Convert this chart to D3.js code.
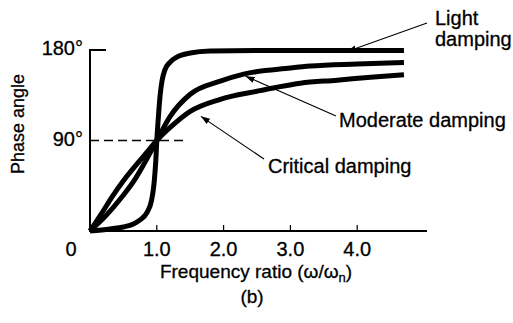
<!DOCTYPE html>
<html>
<head>
<meta charset="utf-8">
<script src="https://cdn.jsdelivr.net/npm/d3@7"></script>
<style>
html,body{margin:0;padding:0;background:#fff;}
svg{display:block;}
text{font-family:"Liberation Sans",Arial,Helvetica,sans-serif;fill:#000;stroke:#000;stroke-width:0.3;}
</style>
</head>
<body>
<svg id="chart" width="513" height="323"></svg>
<script>
// ---- data ----
const xTickValues = [0, 1, 2, 3, 4];
const xTickLabels = ["0", "1.0", "2.0", "3.0", "4.0"];
const yTickValues = [90, 180];
const yTickLabels = ["90°", "180°"];

const lightR   = [0, 0.3, 0.5, 0.65, 0.75, 0.85, 0.92, 0.96, 0.985, 1.0, 1.02, 1.05, 1.08, 1.12, 1.2, 1.3, 1.5, 1.8, 2.5, 3.5, 4.7];
const lightDeg = [0, 2, 4, 7, 11, 18, 30, 48, 70, 90, 110, 135, 150, 160, 168, 173, 177, 179, 179.5, 179.5, 179.5];

const moderateR   = [0, 0.25, 0.48, 0.66, 0.82, 1.0, 1.2, 1.5, 1.95, 2.3, 3.0, 3.3, 4.0, 4.7];
const moderateDeg = [0, 16, 34, 50, 68, 90, 114, 136, 149, 156, 162, 164, 166, 167.5];

const criticalR   = [0, 0.17, 0.33, 0.5, 0.72, 0.86, 1.0, 1.2, 1.5, 1.95, 2.5, 2.8, 3.15, 3.7, 4.2, 4.7];
const criticalDeg = [0, 17, 34, 50, 68, 79, 90, 103, 119, 131, 139, 143, 147, 150, 153, 155.5];

const seriesNames = ["Light damping", "Moderate damping", "Critical damping"];

// ---- layout ----
const svg = d3.select("#chart");
const x = d3.scaleLinear().domain([0, 4]).range([90, 357.2]);
const y = d3.scaleLinear().domain([0, 180]).range([231, 50]);
const xAxisEnd = 427;

const fontSize = 20;

// axes lines
svg.append("line").attr("x1", x(0)).attr("x2", xAxisEnd).attr("y1", y(0)).attr("y2", y(0))
  .attr("stroke", "#000").attr("stroke-width", 2);
svg.append("line").attr("x1", x(0)).attr("x2", x(0)).attr("y1", y(0) + 1).attr("y2", y(180) - 1)
  .attr("stroke", "#000").attr("stroke-width", 2);
// top tick of y axis
svg.append("line").attr("x1", x(0) - 1).attr("x2", x(0) + 16).attr("y1", y(180)).attr("y2", y(180))
  .attr("stroke", "#000").attr("stroke-width", 2);

// x ticks (upward small ticks)
svg.append("g").selectAll("line").data(xTickValues.filter(d => d > 0)).join("line")
  .attr("x1", d => x(d)).attr("x2", d => x(d))
  .attr("y1", y(0)).attr("y2", y(0) - 6)
  .attr("stroke", "#000").attr("stroke-width", 1.2);

// x tick labels
svg.append("g").selectAll("text").data(xTickValues).join("text")
  .attr("x", (d, i) => d === 0 ? x(d) - 19 : x(d))
  .attr("y", 256)
  .attr("text-anchor", "middle")
  .attr("font-size", fontSize)
  .text((d, i) => xTickLabels[i]);

// y tick labels
svg.append("g").selectAll("text").data(yTickValues).join("text")
  .attr("x", 83)
  .attr("y", d => y(d) + 5)
  .attr("text-anchor", "end")
  .attr("font-size", fontSize)
  .text((d, i) => yTickLabels[i]);

// dashed 90° reference line
svg.append("line").attr("x1", x(0)).attr("x2", 187).attr("y1", y(90)).attr("y2", y(90))
  .attr("stroke", "#000").attr("stroke-width", 1.5).attr("stroke-dasharray", "9,5");

// curves
const line = d3.line().x(d => x(d[0])).y(d => y(d[1])).curve(d3.curveMonotoneX);
const series = [
  d3.zip(lightR, lightDeg),
  d3.zip(moderateR, moderateDeg),
  d3.zip(criticalR, criticalDeg)
];
svg.append("g").selectAll("path").data(series).join("path")
  .attr("d", line)
  .attr("fill", "none")
  .attr("stroke", "#000")
  .attr("stroke-width", 5)
  .attr("stroke-linejoin", "round");

// axis titles
const xt = svg.append("text").attr("x", 256).attr("y", 278).attr("text-anchor", "middle").attr("font-size", 19);
xt.append("tspan").text("Frequency ratio (ω/ω");
xt.append("tspan").attr("font-size", 13).attr("dy", 4).text("n");
xt.append("tspan").attr("dy", -4).text(")");

svg.append("text").attr("x", 252).attr("y", 303).attr("text-anchor", "middle").attr("font-size", 19).text("(b)");

svg.append("text")
  .attr("transform", "translate(24,124) rotate(-90)")
  .attr("text-anchor", "middle").attr("font-size", 18)
  .text("Phase angle");

// annotations with leader arrows
const defs = svg.append("defs");
defs.append("marker").attr("id", "arr").attr("viewBox", "0 0 10 10")
  .attr("refX", 10).attr("refY", 5).attr("markerWidth", 9).attr("markerHeight", 9)
  .attr("markerUnits", "userSpaceOnUse").attr("orient", "auto")
  .append("path").attr("d", "M0,1.5 L10,5 L0,8.5 Z").attr("fill", "#000");

const notes = [
  {lines: ["Light", "damping"], tx: 435, ty: 25, from: [427, 23], to: [x(3.85), y(178.5)]},
  {lines: ["Moderate damping"], tx: 339, ty: 127, from: [336, 116], to: [x(2.33), y(154)]},
  {lines: ["Critical damping"], tx: 268, ty: 173, from: [264, 159], to: [x(1.66), y(114)]}
];
notes.forEach(n => {
  svg.append("line").attr("x1", n.from[0]).attr("y1", n.from[1]).attr("x2", n.to[0]).attr("y2", n.to[1])
    .attr("stroke", "#000").attr("stroke-width", 1.1).attr("marker-end", "url(#arr)");
  const t = svg.append("text").attr("x", n.tx).attr("y", n.ty).attr("font-size", fontSize);
  n.lines.forEach((s, i) => t.append("tspan").attr("x", n.tx).attr("dy", i === 0 ? 0 : 21).text(s));
});
</script>
</body>
</html>
